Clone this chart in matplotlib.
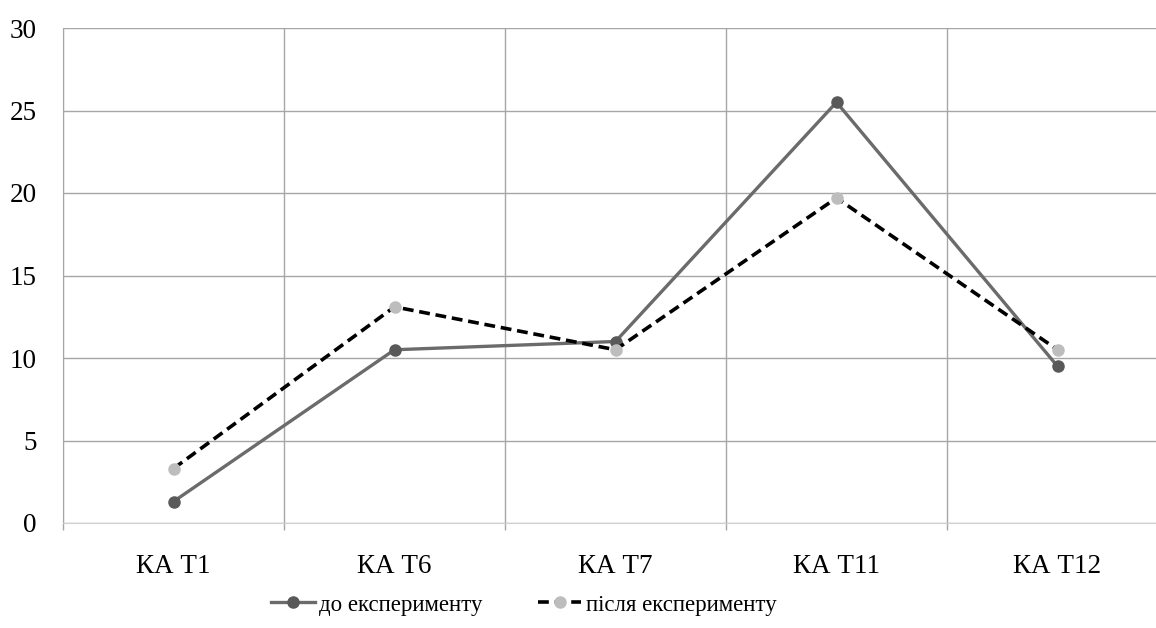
import matplotlib.pyplot as plt
from matplotlib.ticker import FixedLocator, MultipleLocator

# data
categories = ['КА Т1', 'КА Т6', 'КА Т7', 'КА Т11', 'КА Т12']
before = [1.3, 10.5, 11.0, 25.5, 9.5]
after = [3.3, 13.1, 10.5, 19.7, 10.5]
label_before = 'до експерименту'
label_after = 'після експерименту'

plt.rcParams['font.family'] = ['Liberation Serif', 'DejaVu Serif']

fig = plt.figure(figsize=(11.56, 6.28), dpi=100)
ax = fig.add_axes([63 / 1156, 1 - 523 / 628, 1105 / 1156, 495 / 628])

x = list(range(len(categories)))
ax.plot(x, before, color='#6b6b6b', lw=2.4, marker='o', ms=8,
        mfc='#595959', mec='#595959', label=label_before, zorder=3)
ax.plot(x, after, color='black', lw=2.6, ls=(0, (3, 1.6)), marker='o', ms=8,
        mfc='#bdbdbd', mec='#bdbdbd', label=label_after, zorder=4)

ax.set_xlim(-0.5, len(categories) - 0.5)
ax.set_ylim(0, 30)
ax.yaxis.set_major_locator(MultipleLocator(5))

# category labels centered, tick marks / vertical grid at boundaries
ax.set_xticks(x)
ax.set_xticklabels(categories, fontsize=19.5)
ax.xaxis.set_minor_locator(FixedLocator([i - 0.5 for i in range(len(categories) + 1)]))
ax.tick_params(axis='x', which='major', length=0, pad=22)
ax.tick_params(axis='x', which='minor', length=5, color='#a6a6a6', width=1)
ax.tick_params(axis='y', length=0, pad=19, labelsize=19.5)

ax.grid(axis='y', which='major', color='#a6a6a6', lw=1)
ax.grid(axis='x', which='minor', color='#a6a6a6', lw=1)
ax.set_axisbelow(True)

for s in ['top', 'right']:
    ax.spines[s].set_visible(False)
ax.spines['left'].set_color('#a6a6a6')
ax.spines['bottom'].set_color('#d0d0d0')

fig.legend(loc='center', bbox_to_anchor=(524 / 1156, 1 - 605 / 628), ncol=2,
           frameon=False, fontsize=16.5, handlelength=1.9, columnspacing=2.4,
           handletextpad=0.2)

fig.savefig('out.png', dpi=100)
